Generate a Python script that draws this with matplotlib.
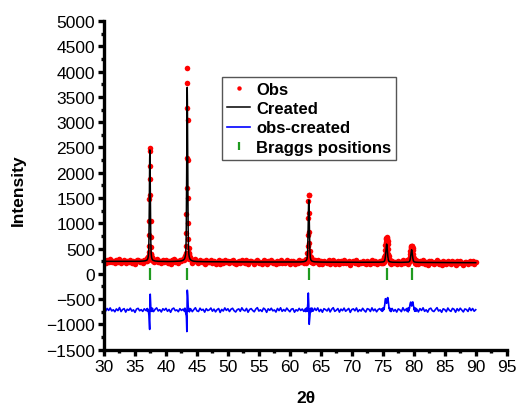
import numpy as np
import matplotlib
matplotlib.use("Agg")
import matplotlib.pyplot as plt
from matplotlib.ticker import MultipleLocator

plt.rcParams['font.family'] = ['Liberation Sans', 'DejaVu Sans']

# scan segments: start 2theta and step (coarse on background, fine around peaks)
seg_start = [30.00, 36.95, 38.00, 42.98, 44.00, 62.51, 63.75, 74.87, 76.50, 78.90, 80.50]
seg_step = [0.25, 0.03, 0.25, 0.03, 0.25, 0.036, 0.25, 0.05, 0.25, 0.05, 0.25]

# observed intensities
obs_a = [259, 222, 278, 239, 287, 228, 251, 211, 268, 234, 294, 216, 255, 273, 205, 261, 240, 282, 224, 249,
         200, 266, 281, 233, 258, 223, 279, 252]
obs_p1 = [292, 257, 315, 278, 310, 286, 335, 325, 368, 430, 560, 760, 1050, 1480, 1880, 2420,
          2490, 2140, 1560, 1050, 730, 528, 393, 389, 311, 329, 272, 313, 277, 314, 257]
obs_b = [233, 268, 292, 229, 254, 208, 270, 241, 277, 218, 255, 199, 265, 284, 234, 250, 216, 279, 248, 284]
obs_p2 = [269, 327, 299, 357, 306, 362, 340, 368, 412, 550, 800, 1180, 1700, 2290, 3280, 4080,
          3780, 3040, 2250, 1500, 1000, 685, 514, 397, 411, 337, 360, 285, 329, 293, 321]
obs_c = [295, 224, 258, 291, 227, 214, 278, 236,
         255, 198, 267, 229, 242, 278, 215, 257,
         201, 244, 267, 190, 250, 218, 278, 229,
         262, 206, 253, 271, 222, 197, 243, 258,
         210, 279, 233, 217, 266, 191, 245, 263,
         226, 200, 253, 281, 213, 238, 204, 271,
         247, 188, 257, 226, 268, 217, 234, 193,
         263, 221, 277, 205, 241, 210, 270, 230,
         198, 249, 258, 189, 238, 214, 267, 225,
         257, 213]
obs_p3 = [277, 222, 271, 241, 303, 261, 287, 269, 303, 406, 545, 764, 1096, 1450, 1557, 1560,
          1197, 831, 616, 454, 360, 310, 285, 330, 267, 301, 230, 272, 233, 293, 242]
obs_d = [222, 273, 227, 276, 204, 245, 189, 258,
         239, 213, 265, 194, 246, 277, 204, 227,
         260, 190, 249, 217, 267, 205, 232, 261,
         183, 240, 253, 214, 269, 196, 235, 208,
         263, 221, 190, 256, 243, 199, 270, 213,
         248, 193, 238, 259, 222]
obs_p4 = [254, 207, 268, 224, 276, 241, 273, 270, 332, 377, 480, 565, 632, 692, 713, 722,
          712, 690, 655, 585, 490, 400, 344, 278, 282, 232, 270, 213, 253, 202, 243]
obs_e = [262, 206, 237, 188, 249, 230, 194, 273, 215, 248]
obs_p5 = [209, 265, 225, 259, 195, 252, 226, 287, 275, 337, 393, 445, 508, 533, 546, 556,
          550, 535, 510, 465, 400, 330, 310, 248, 272, 210, 261, 217, 270, 204, 241]
obs_f = [245, 190, 254, 217, 269, 199, 230, 184,
         247, 261, 210, 194, 235, 271, 204, 227,
         179, 248, 231, 190, 262, 217, 196, 255,
         237, 180, 248, 205, 257, 220, 184, 243,
         231, 193, 263, 209, 251, 197, 227]

# calculated (refined) profile on the same points
calc_a = [247, 247, 247, 247, 247, 246, 246, 246, 246, 246, 246, 246, 246, 246, 246, 246, 246, 246, 246, 246,
          247, 247, 248, 248, 250, 251, 255, 262]
calc_p1 = [274, 279, 285, 292, 301, 313, 331, 358, 408, 500, 668, 945, 1345, 1827, 2264, 2450,
           2264, 1827, 1345, 945, 668, 500, 408, 358, 331, 313, 301, 292, 285, 279, 274]
calc_b = [264, 254, 250, 248, 247, 246, 245, 245, 244, 244, 244, 244, 245, 246, 247, 248, 250, 252, 257, 268]
calc_p2 = [293, 300, 310, 321, 336, 354, 381, 423, 502, 645, 909, 1340, 1964, 2716, 3398, 3688,
           3398, 2716, 1964, 1340, 909, 645, 502, 423, 381, 354, 336, 321, 310, 300, 293]
calc_c = [274, 257, 250, 246, 244, 243, 242, 241,
          241, 240, 240, 240, 239, 239, 239, 239,
          238, 238, 238, 238, 238, 238, 237, 237,
          237, 237, 237, 237, 236, 236, 236, 236,
          236, 236, 236, 235, 235, 235, 235, 235,
          235, 235, 234, 234, 234, 234, 234, 234,
          234, 234, 233, 233, 233, 233, 233, 233,
          233, 233, 233, 232, 232, 232, 232, 232,
          232, 232, 232, 232, 233, 233, 234, 235,
          237, 241]
calc_p3 = [251, 253, 257, 261, 266, 273, 282, 297, 325, 376, 470, 624, 846, 1114, 1357, 1460,
           1357, 1114, 846, 624, 470, 376, 325, 297, 282, 273, 266, 261, 257, 253, 251]
calc_d = [244, 238, 236, 235, 234, 233, 233, 232,
          232, 232, 232, 232, 231, 231, 231, 231,
          231, 231, 231, 230, 230, 230, 230, 230,
          230, 230, 230, 230, 229, 229, 229, 229,
          229, 229, 229, 229, 229, 228, 228, 228,
          229, 229, 230, 231, 233]
calc_p4 = [234, 234, 235, 236, 238, 240, 243, 247, 255, 270, 298, 343, 409, 487, 559, 589,
           559, 487, 409, 343, 298, 270, 255, 247, 243, 240, 238, 236, 235, 234, 234]
calc_e = [231, 230, 228, 228, 227, 227, 227, 228, 229, 230]
calc_p5 = [230, 230, 231, 232, 233, 234, 236, 239, 245, 255, 275, 306, 352, 406, 456, 477,
           456, 406, 352, 306, 275, 255, 245, 239, 236, 234, 233, 232, 231, 230, 230]
calc_f = [229, 227, 226, 226, 226, 225, 225, 225,
          225, 225, 225, 224, 224, 224, 224, 224,
          224, 224, 223, 223, 223, 223, 223, 223,
          223, 223, 222, 222, 222, 222, 222, 222,
          222, 222, 222, 221, 221, 221, 221]

bragg_pos = [37.42, 43.44, 63.10, 75.68, 79.68]
diff_offset = -715

obs_segs = [obs_a, obs_p1, obs_b, obs_p2, obs_c, obs_p3, obs_d, obs_p4, obs_e, obs_p5, obs_f]
calc_segs = [calc_a, calc_p1, calc_b, calc_p2, calc_c, calc_p3, calc_d, calc_p4, calc_e, calc_p5, calc_f]

two_theta = np.concatenate([s + st * np.arange(len(v)) for s, st, v in zip(seg_start, seg_step, obs_segs)])
obs = np.concatenate(obs_segs).astype(float)
calc = np.concatenate(calc_segs).astype(float)
diff = obs - calc + diff_offset

fig = plt.figure(figsize=(5.19, 4.06), dpi=100)
ax = fig.add_axes([0.2004, 0.1362, 0.7759, 0.8096])

ax.plot(two_theta, obs, 'o', color='red', ms=4.0, mew=0, label='Obs', zorder=2)
ax.plot(two_theta, calc, '-', color='black', lw=1.1, label='Created', zorder=3)
ax.plot(two_theta, diff, '-', color='blue', lw=1.2, label='obs-created', zorder=2)
ax.plot(bragg_pos, np.zeros(len(bragg_pos)), '|', color='#1f9a1f', ms=8, mew=1.6,
        linestyle='none', label='Braggs positions', zorder=2)

ax.set_xlim(30, 95)
ax.set_ylim(-1500, 5000)
ax.xaxis.set_major_locator(MultipleLocator(5))
ax.xaxis.set_minor_locator(MultipleLocator(2.5))
ax.yaxis.set_major_locator(MultipleLocator(500))
ax.yaxis.set_minor_locator(MultipleLocator(250))

for side in ['top', 'right']:
    ax.spines[side].set_visible(False)
for side in ['left', 'bottom']:
    ax.spines[side].set_linewidth(2.4)
ax.tick_params(which='major', direction='out', length=4.5, width=2.4, labelsize=12.5, pad=2)
ax.tick_params(which='minor', direction='out', length=2.5, width=2.4)

fig.text(18.5 / 519, 1 - 190 / 406, 'Intensity', rotation=90, ha='center', va='center',
         fontsize=12.5, fontweight='bold')
fig.text(306 / 519, 1 - 399 / 406, '2θ', ha='center', va='center', fontsize=12.5, fontweight='bold')

leg = ax.legend(loc='upper left', bbox_to_anchor=(222 / 519, 1 - 78 / 406), bbox_transform=fig.transFigure,
                borderaxespad=0, fancybox=False, edgecolor='#555555', framealpha=1,
                prop={'weight': 'bold', 'size': 12}, handlelength=1.4, handletextpad=0.35,
                labelspacing=0.25, borderpad=0.3, markerscale=0.8)
leg.get_frame().set_linewidth(1.0)

fig.savefig('out.png', dpi=100)
